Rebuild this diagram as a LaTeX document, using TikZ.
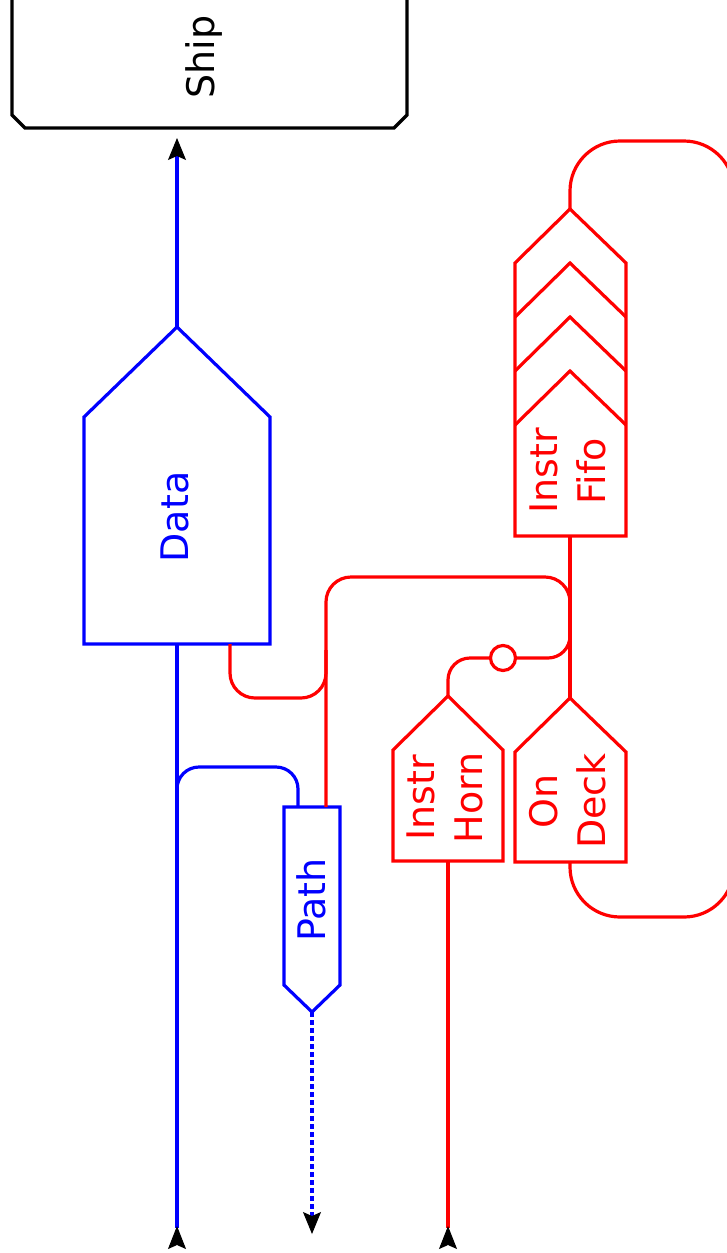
\documentclass[tikz,border=0pt]{standalone}
\usepackage{fontspec}
\setmainfont{DejaVu Sans}
\usetikzlibrary{arrows.meta}
\tikzset{
  wire/.style={line width=1.6pt},
  bl/.style={wire, draw=blue},
  rd/.style={wire, draw=red},
  shipbox/.style={wire, draw=black},
  lbl/.style={rotate=90, align=center, inner sep=0pt,
              font=\fontsize{19}{24}\selectfont},
  tipup/.style={{Stealth[reversed, length=11.5pt, width=9pt, inset=2pt, color=black, line width=0.5pt]}-},
  tipdown/.style={-{Stealth[length=11pt, width=9pt, inset=2pt, color=black, line width=0.5pt]}},
  bubble/.style={circle, draw=red, fill=white, wire, minimum size=12.5pt, inner sep=0pt},
}
\begin{document}
\begin{tikzpicture}[x=0.5pt, y=-0.5pt]
\clip (0,0) rectangle (727,1253);

% ---- anchor points ----
\coordinate (shipIn)   at (177,138);
\coordinate (dataTop)  at (177,327);
\coordinate (dataOut)  at (177,644);
\coordinate (dataRed)  at (230,644);
\coordinate (blueEnd)  at (177,1249);
\coordinate (blueSplit) at (177,810);
\coordinate (bturn)    at (298,767);
\coordinate (pathIn)   at (298,807);
\coordinate (pathRed)  at (326,807);
\coordinate (pathTip)  at (312,1012);
\coordinate (dotEnd)   at (312,1234);
\coordinate (rturn)    at (570,577);
\coordinate (rjoin)    at (570,640);
\coordinate (dturn)    at (326,698);
\coordinate (colJoin)  at (326,650);
\coordinate (hjoin)    at (570,610);
\coordinate (hturn)    at (448,658);
\coordinate (hornIn)   at (448,696);
\coordinate (hornOut)  at (448,861);
\coordinate (redEnd)   at (448,1249);
\coordinate (fifoIn)   at (570,209);
\coordinate (fifoOut)  at (570,536);
\coordinate (deckIn)   at (570,698);
\coordinate (deckOut)  at (570,862);
\coordinate (loopBR)   at (734,917);
\coordinate (loopTR)   at (734,141);

% ---- Ship ----
\draw[shipbox] (12,-10) -- (12,115) -- (25,128) -- (394,128) -- (407,115) -- (407,-10);
\node[lbl] (ship) at (204,57) {Ship};

% ---- Data ----
\draw[bl] (84,644) -- (84,417) -- (dataTop) -- (270,417) -- (270,644) -- cycle;
\node[lbl, text=blue] (data) at (175,517) {Data};

% ---- Path ----
\draw[bl] (284,807) -- (340,807) -- (340,985) -- (pathTip) -- (284,985) -- cycle;
\node[lbl, text=blue] (path) at (311,900) {Path};

% ---- Instr Fifo ----
\draw[rd] (515,536) -- (515,263) -- (fifoIn) -- (626,263) -- (626,536) -- cycle;
\draw[rd] (515,317) -- (570,263) -- (626,317);
\draw[rd] (515,371) -- (570,317) -- (626,371);
\draw[rd] (515,425) -- (570,371) -- (626,425);
\node[lbl, text=red] (fifo) at (568,471) {Instr\\Fifo};

% ---- Instr Horn ----
\draw[rd] (393,861) -- (393,750) -- (hornIn) -- (503,750) -- (503,861) -- cycle;
\node[lbl, text=red] (horn) at (445,798) {Instr\\Horn};

% ---- On Deck ----
\draw[rd] (515,862) -- (515,752) -- (deckIn) -- (626,752) -- (626,862) -- cycle;
\node[lbl, text=red] (deck) at (568,801) {On\\Deck};

% ---- blue connectors ----
\draw[bl, tipdown] (dataTop) -- (shipIn);
\draw[bl, tipup] (blueEnd) -- (dataOut);
\draw[bl, rounded corners=11pt] (blueSplit) |- (bturn) -- (pathIn);
\draw[bl, dash pattern=on 2.5pt off 1.5pt, tipdown] (pathTip) -- (dotEnd);

% ---- red connectors ----
\draw[rd] (fifoOut) -- (deckIn);
\draw[rd, rounded corners=12.5pt] (pathRed) |- (rturn) -- (rjoin);
\draw[rd, rounded corners=12.5pt] (dataRed) |- (dturn) -- (colJoin);
\draw[rd, rounded corners=11pt] (hjoin) |- (hturn) -- (hornIn);
\node[bubble] (inv) at (503,658) {};
\draw[rd, tipup] (redEnd) -- (hornOut);
\draw[rd, rounded corners=25pt] (deckOut) |- (loopBR) -- (loopTR) -| (fifoIn);
\end{tikzpicture}
\end{document}
